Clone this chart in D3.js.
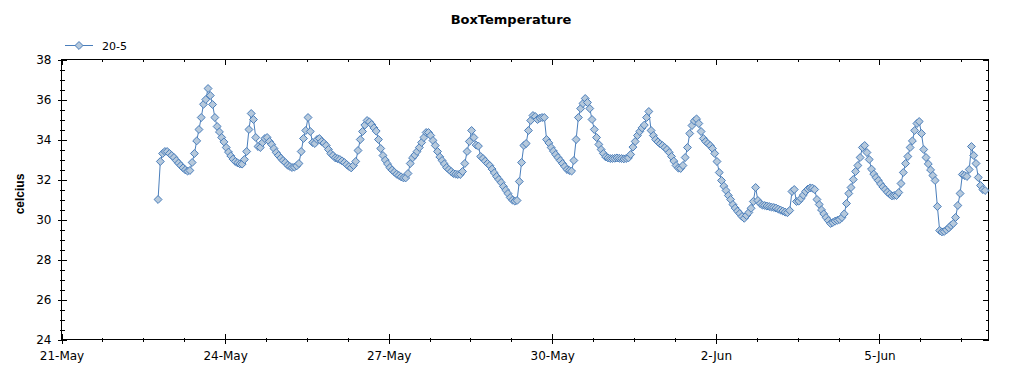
<!DOCTYPE html>
<html>
<head>
<meta charset="utf-8">
<script src="https://cdn.jsdelivr.net/npm/d3@7"></script>
<style>
  body { margin: 0; background: #fff; }
  svg { display: block; }
</style>
</head>
<body>
<div class="chart-wrapper"></div>
<script>
// hourly readings from the first sample
const sampleStart = "2019-05-22T18:30:00Z";
const sampleStepHours = 1;
const temps = [
  31.0, 32.9, 33.3, 33.4, 33.4, 33.3, 33.2, 33.1, 32.95, 32.82,
  32.7, 32.58, 32.48, 32.42, 32.45, 32.85, 33.3, 33.93, 34.5, 35.1,
  35.76, 36.0, 36.55, 36.2, 35.75, 35.1, 34.65, 34.38, 34.1, 33.88,
  33.6, 33.37, 33.18, 33.02, 32.9, 32.83, 32.78, 32.77, 33.0, 33.4,
  34.5, 35.3, 35.0, 34.1, 33.65, 33.6, 33.85, 34.05, 34.1, 33.9,
  33.75, 33.55, 33.35, 33.2, 33.07, 32.95, 32.85, 32.72, 32.65, 32.6,
  32.62, 32.68, 32.8, 33.4, 34.05, 34.45, 35.1, 34.4, 33.85, 33.8,
  34.0, 34.05, 33.9, 33.82, 33.7, 33.5, 33.3, 33.2, 33.08, 33.04,
  33.0, 32.93, 32.85, 32.75, 32.65, 32.58, 32.7, 32.9, 33.45, 34.0,
  34.4, 34.72, 34.95, 34.88, 34.75, 34.58, 34.42, 34.0, 33.55, 33.2,
  32.97, 32.78, 32.6, 32.47, 32.37, 32.27, 32.2, 32.13, 32.08, 32.08,
  32.3, 32.8, 33.08, 33.22, 33.4, 33.6, 33.85, 34.1, 34.35, 34.35,
  34.2, 33.95, 33.7, 33.4, 33.13, 32.95, 32.78, 32.6, 32.5, 32.4,
  32.3, 32.27, 32.25, 32.25, 32.4, 32.8, 33.4, 33.9, 34.45, 34.1,
  33.72, 33.67, 33.15, 33.05, 32.92, 32.8, 32.7, 32.52, 32.33, 32.15,
  32.0, 31.85, 31.65, 31.47, 31.3, 31.1, 30.97, 30.92, 30.95, 31.9,
  32.85, 33.7, 33.8, 34.45, 34.95, 35.2, 35.15, 35.0, 35.07, 35.1,
  35.1, 34.0, 33.83, 33.6, 33.42, 33.25, 33.1, 32.95, 32.8, 32.65,
  32.5, 32.45, 32.42, 32.95, 34.0, 35.1, 35.55, 35.8, 36.05, 35.85,
  35.55, 35.0, 34.5, 34.1, 33.75, 33.5, 33.3, 33.13, 33.08, 33.05,
  33.05, 33.06, 33.08, 33.06, 33.05, 33.03, 33.05, 33.08, 33.25, 33.62,
  33.9, 34.2, 34.4, 34.58, 34.72, 35.1, 35.4, 34.45, 34.2, 34.0,
  33.88, 33.78, 33.7, 33.6, 33.5, 33.35, 33.15, 32.92, 32.7, 32.57,
  32.55, 32.7, 33.1, 33.6, 34.3, 34.7, 34.93, 35.03, 34.8, 34.4,
  34.05, 33.9, 33.8, 33.7, 33.55, 33.3, 32.9, 32.35, 31.95, 31.67,
  31.45, 31.2, 31.0, 30.75, 30.57, 30.42, 30.3, 30.15, 30.06, 30.2,
  30.35, 30.56, 30.9, 31.6, 30.95, 30.8, 30.72, 30.7, 30.67, 30.65,
  30.62, 30.6, 30.57, 30.52, 30.47, 30.42, 30.37, 30.34, 30.45, 31.4,
  31.5, 30.9, 30.92, 31.05, 31.22, 31.4, 31.52, 31.58, 31.57, 31.5,
  31.0, 30.75, 30.48, 30.28, 30.1, 29.95, 29.8, 29.85, 29.92, 29.96,
  30.0, 30.1, 30.28, 30.8, 31.3, 31.6, 32.0, 32.4, 32.7, 33.1,
  33.6, 33.7, 33.35, 33.0, 32.52, 32.27, 32.1, 31.95, 31.78, 31.63,
  31.5, 31.37, 31.27, 31.18, 31.2, 31.2, 31.35, 31.8, 32.35, 32.8,
  33.15, 33.6, 33.93, 34.45, 34.8, 34.9, 34.3, 33.5, 33.1, 32.78,
  32.48, 32.2, 31.95, 30.65, 29.45, 29.38, 29.4, 29.48, 29.58, 29.7,
  29.8, 30.1, 30.7, 31.3, 32.25, 32.2, 32.15, 32.5, 33.65, 33.2,
  32.8, 32.1, 31.7, 31.5, 31.45
];
const seriesName = "20-5";
const xDomain = ["2019-05-21T00:00:00Z", "2019-06-07T00:00:00Z"];
const xMajorTicks = ["2019-05-21", "2019-05-24", "2019-05-27", "2019-05-30", "2019-06-02", "2019-06-05"];
const xMinorStepHours = 18;
const yDomain = [24, 38];
const yMajorTicks = [24, 26, 28, 30, 32, 34, 36, 38];
const yMinorStep = 0.5;

const W = 1024, H = 375;
const plotL = 61.5, plotR = 988.5, plotT = 59.5, plotB = 339.5;
const lineColor = "#4a7ebb", markerFill = "#b6c9dc";

const svg = d3.select(".chart-wrapper")
  .append("svg")
  .attr("width", W)
  .attr("height", H);

const start = new Date(sampleStart);
const data = temps.map((v, i) => ({
  t: new Date(start.getTime() + i * sampleStepHours * 3600e3),
  v
}));

const x = d3.scaleUtc()
  .domain(xDomain.map(d => new Date(d)))
  .range([plotL, plotR]);
const y = d3.scaleLinear()
  .domain(yDomain)
  .range([plotB, plotT]);

const xMajor = xMajorTicks.map(d => new Date(d + "T00:00:00Z"));
const span = (x.domain()[1] - x.domain()[0]) / 3600e3;
const xMinor = d3.range(0, span + 0.001, xMinorStepHours)
  .map(h => new Date(x.domain()[0].getTime() + h * 3600e3));
const yMinor = d3.range(yDomain[0], yDomain[1] + 0.001, yMinorStep);
const fmt = d3.utcFormat("%-d-%b");

// title
svg.append("text")
  .text("BoxTemperature")
  .attr("x", 511)
  .attr("y", 24)
  .attr("text-anchor", "middle")
  .attr("font-family", "DejaVu Sans")
  .attr("font-weight", "bold")
  .attr("font-size", 13);

// y axis label
svg.append("text")
  .text("celcius")
  .attr("transform", `translate(24,194)rotate(-90)`)
  .attr("text-anchor", "middle")
  .attr("font-family", "Liberation Sans")
  .attr("font-weight", "bold")
  .attr("font-size", 12);

// helper to add an axis without labels
function bare(axis, tr) {
  const g = svg.append("g")
    .attr("transform", tr)
    .call(axis.tickFormat(""));
  g.select(".domain").remove();
  g.selectAll("line").attr("stroke", "#000").attr("shape-rendering", "crispEdges");
  return g;
}

// frame
svg.append("rect")
  .attr("x", plotL).attr("y", plotT)
  .attr("width", plotR - plotL).attr("height", plotB - plotT)
  .attr("fill", "none").attr("stroke", "#000")
  .attr("shape-rendering", "crispEdges");

// bottom axis with labels
const gx = svg.append("g")
  .attr("transform", `translate(0,${plotB})`)
  .call(d3.axisBottom(x).tickValues(xMajor).tickSize(4).tickPadding(8).tickFormat(fmt));
gx.select(".domain").remove();
gx.selectAll("line").attr("shape-rendering", "crispEdges");
gx.selectAll("text")
  .attr("font-family", "DejaVu Sans")
  .attr("font-size", 12)
  .attr("fill", "#000");
bare(d3.axisTop(x).tickValues(xMajor).tickSize(6), `translate(0,${plotB})`);
bare(d3.axisBottom(x).tickValues(xMinor).tickSize(2), `translate(0,${plotB})`);
bare(d3.axisTop(x).tickValues(xMinor).tickSize(2), `translate(0,${plotB})`);

// top axis ticks
bare(d3.axisBottom(x).tickValues(xMajor).tickSize(5), `translate(0,${plotT})`);
bare(d3.axisBottom(x).tickValues(xMinor).tickSize(2.5), `translate(0,${plotT})`);

// left axis with labels
const gy = svg.append("g")
  .attr("transform", `translate(${plotL},0)`)
  .call(d3.axisLeft(y).tickValues(yMajorTicks).tickSize(4).tickPadding(6));
gy.select(".domain").remove();
gy.selectAll("line").attr("shape-rendering", "crispEdges");
gy.selectAll("text")
  .attr("font-family", "DejaVu Sans")
  .attr("font-size", 12)
  .attr("fill", "#000");
bare(d3.axisRight(y).tickValues(yMajorTicks).tickSize(5), `translate(${plotL},0)`);
bare(d3.axisLeft(y).tickValues(yMinor).tickSize(2), `translate(${plotL},0)`);
bare(d3.axisRight(y).tickValues(yMinor).tickSize(3), `translate(${plotL},0)`);

// right axis ticks
bare(d3.axisLeft(y).tickValues(yMajorTicks).tickSize(5.5), `translate(${plotR},0)`);
bare(d3.axisLeft(y).tickValues(yMinor).tickSize(2.5), `translate(${plotR},0)`);

// series line
svg.append("path")
  .datum(data)
  .attr("fill", "none")
  .attr("stroke", lineColor)
  .attr("stroke-width", 1)
  .attr("d", d3.line().x(d => x(d.t)).y(d => y(d.v)));

// diamond markers
const diamond = d3.symbol().type(d3.symbolDiamond2).size(40);
svg.append("g")
  .selectAll("path")
  .data(data)
  .join("path")
  .attr("transform", d => `translate(${x(d.t)},${y(d.v)})`)
  .attr("d", diamond)
  .attr("fill", markerFill)
  .attr("stroke", lineColor)
  .attr("stroke-width", 1);

// legend
const lg = svg.append("g");
lg.append("line")
  .attr("x1", 65).attr("x2", 93)
  .attr("y1", 45.5).attr("y2", 45.5)
  .attr("stroke", lineColor);
lg.append("path")
  .attr("transform", "translate(79,45.5)")
  .attr("d", diamond)
  .attr("fill", markerFill)
  .attr("stroke", lineColor);
lg.append("text")
  .text(seriesName)
  .attr("x", 102)
  .attr("y", 50)
  .attr("font-family", "DejaVu Sans")
  .attr("font-size", 11);
</script>
</body>
</html>
